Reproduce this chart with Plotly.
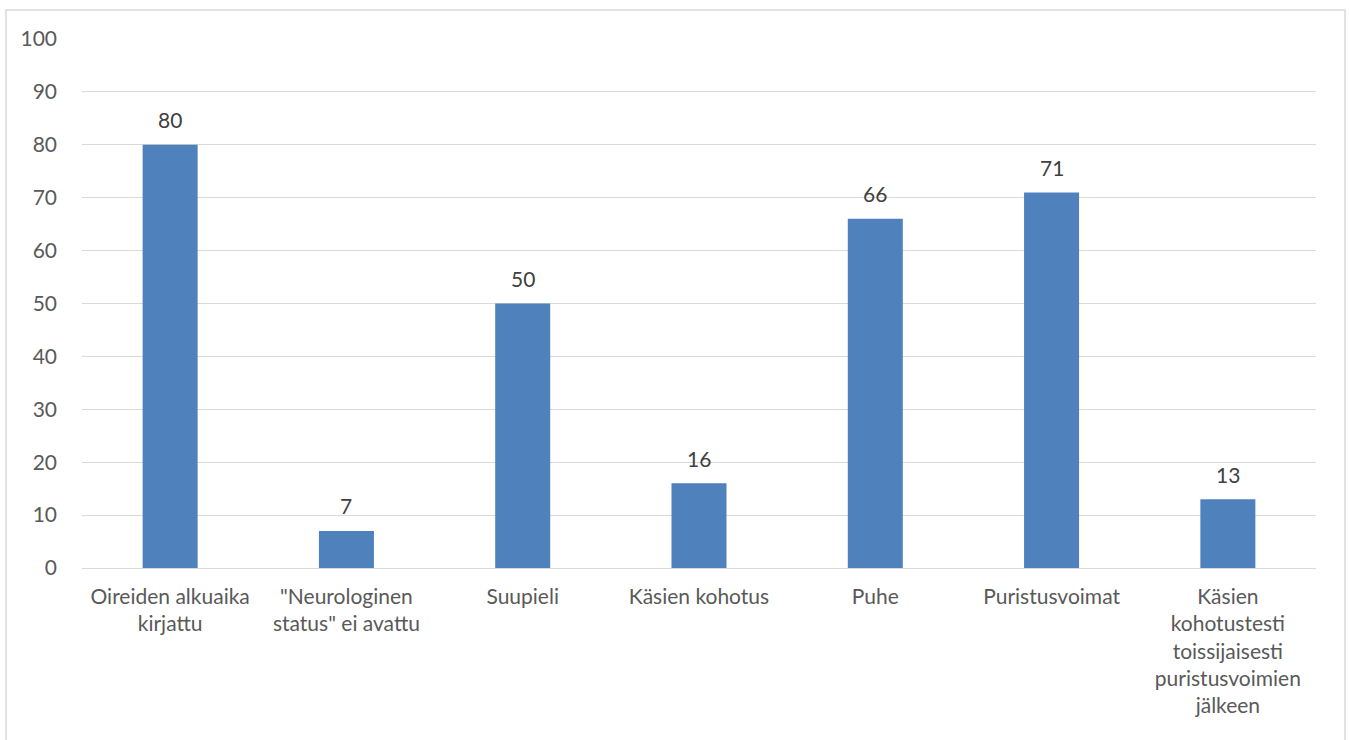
import plotly.graph_objects as go

categories = [
    "Oireiden alkuaika<br>kirjattu",
    "\"Neurologinen<br>status\" ei avattu",
    "Suupieli",
    "Käsien kohotus",
    "Puhe",
    "Puristusvoimat",
    "Käsien<br>kohotustesti<br>toissijaisesti<br>puristusvoimien<br>jälkeen",
]
values = [80, 7, 50, 16, 66, 71, 13]
labels = ["80", "7", "50", "16", "66", "71", "13"]
y_ticks = [0, 10, 20, 30, 40, 50, 60, 70, 80, 90, 100]

FONT = "Lato, 'Open Sans', sans-serif"
FS = 21

fig = go.Figure()
fig.add_trace(go.Bar(
    x=categories, y=values,
    marker=dict(color="#4f81bd", line=dict(width=0)),
    hoverinfo="skip",
))

for c, v, t in zip(categories, values, labels):
    fig.add_annotation(x=c, y=v, text=t, showarrow=False, yanchor="middle",
                       yshift=25, font=dict(family=FONT, size=FS, color="#404040"))

W, H = 1349, 740
ml, mr, mt, mb = 82, 33, 39, 172
pw, ph = W - ml - mr, H - mt - mb
fig.add_shape(type="rect", xref="paper", yref="paper",
              x0=(6 - ml) / pw, x1=(1345 - ml) / pw,
              y0=-0.6, y1=(H - mb - 10) / ph,
              line=dict(color="#d9d9d9", width=1.5), fillcolor="rgba(0,0,0,0)", layer="below")

fig.update_layout(
    width=W, height=H,
    margin=dict(l=ml, r=mr, t=mt, b=mb, pad=0),
    paper_bgcolor="white", plot_bgcolor="white",
    bargap=0.688,
    showlegend=False,
    font=dict(family=FONT, size=FS, color="#595959"),
    xaxis=dict(showgrid=False, showline=False, ticks="", tickangle=0,
               tickfont=dict(family=FONT, size=FS, color="#595959"),
               ticklabelstandoff=14),
    yaxis=dict(range=[0, 100], tickvals=y_ticks, showgrid=True, gridcolor="#d9d9d9",
               gridwidth=1, zeroline=True, zerolinecolor="#d9d9d9", zerolinewidth=1,
               showline=False, ticks="", ticklabelstandoff=24,
               tickfont=dict(family=FONT, size=FS, color="#595959")),
)

fig.write_html("out.html")
